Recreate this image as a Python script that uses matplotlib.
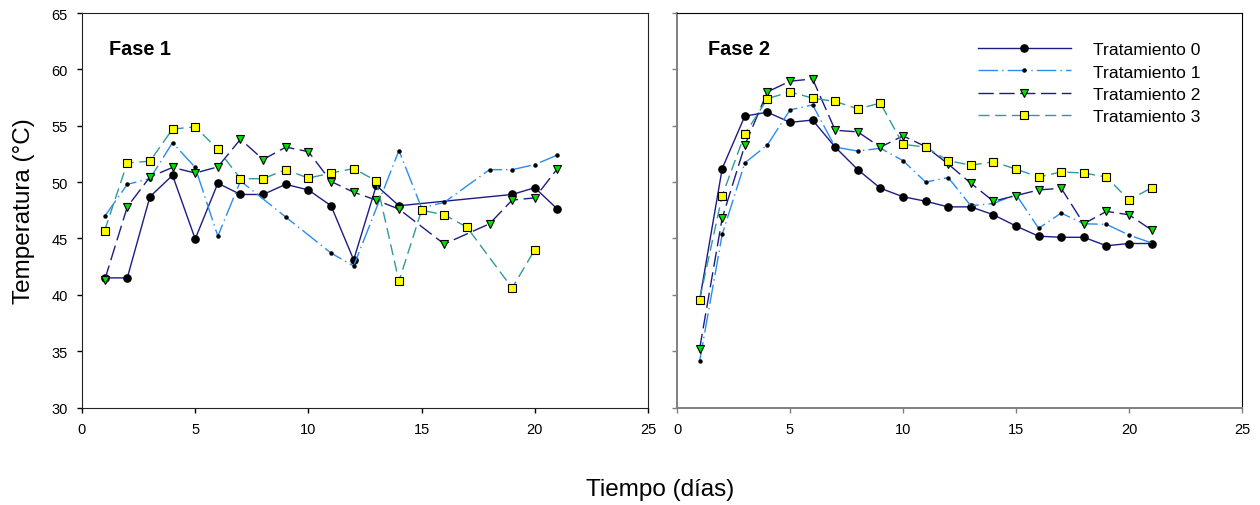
import numpy as np
import matplotlib
matplotlib.use('Agg')
import matplotlib.pyplot as plt

plt.rcParams['font.family'] = ['Liberation Sans', 'DejaVu Sans']

nan = np.nan
dias = np.arange(1, 22)

# Fase 1
f1_t0 = [41.5, 41.5, 48.7, 50.6, 44.95, 49.9, 48.9, 48.9, 49.8, 49.3, 47.9, 43.1, 49.7, 47.9,
         nan, nan, nan, nan, 48.9, 49.5, 47.6]
f1_t1 = [46.95, 49.8, 50.3, 53.5, 51.3, 45.2, 50.1, nan, 46.9, nan, 43.7, 42.55, nan, 52.8,
         47.7, 48.2, nan, 51.1, 51.1, 51.55, 52.4]
f1_t2 = [41.3, 47.8, 50.45, 51.3, 50.8, 51.35, 53.8, 52.0, 53.1, 52.7, 50.05, 49.1, 48.4, 47.6,
         nan, 44.5, nan, 46.3, 48.4, 48.6, 51.2]
f1_t3 = [45.7, 51.7, 51.85, 54.7, 54.9, 52.9, 50.3, 50.3, 51.1, 50.35, 50.8, 51.2, 50.1, 41.2,
         47.5, 47.1, 46.0, nan, 40.6, 44.0, nan]

# Fase 2
f2_t0 = [39.5, 51.2, 55.85, 56.2, 55.3, 55.5, 53.1, 51.1, 49.45, 48.7, 48.3, 47.8, 47.8, 47.1,
         46.1, 45.2, 45.1, 45.1, 44.35, 44.55, 44.55]
f2_t1 = [34.1, 45.35, 51.7, 53.3, 56.4, 56.85, 53.1, 52.75, 53.0, 51.9, 50.0, 50.4, 47.9, 48.1,
         48.9, 45.9, 47.25, 46.3, 46.25, 45.3, 44.6]
f2_t2 = [35.2, 46.8, 53.25, 58.0, 58.95, 59.15, 54.6, 54.45, 53.1, 54.1, 53.15, 51.6, 49.9, 48.3,
         48.8, 49.3, 49.45, 46.3, 47.4, 47.1, 45.75]
f2_t3 = [39.57, 48.8, 54.25, 57.4, 58.0, 57.45, 57.15, 56.5, 57.0, 53.35, 53.1, 51.9, 51.5, 51.8,
         51.15, 50.45, 50.9, 50.8, 50.45, 48.4, 49.5]

labels = ['Tratamiento 0', 'Tratamiento 1', 'Tratamiento 2', 'Tratamiento 3']

navy = '#1c1c86'
estilos = [
    dict(color=navy, ls='-', marker='o', ms=5.2, mfc='black', mec='black'),
    dict(color='#2a8cf0', ls=(0, (14, 3, 1, 3)), marker='o', ms=2.2, mfc='black', mec='black'),
    dict(color=navy, ls=(0, (11, 4)), marker='v', ms=6.3, mfc='#00dd00', mec='black', mew=0.8),
    dict(color='#2f9a9a', ls=(0, (8, 4)), marker='s', ms=6.0, mfc='#ffff00', mec='black', mew=0.8),
]

fig = plt.figure(figsize=(12.6, 5.06), dpi=100)
bot = (506 - 408.5) / 506
hgt = (408.5 - 14) / 506
ax1 = fig.add_axes([82 / 1260, bot, (648 - 82) / 1260, hgt])
ax2 = fig.add_axes([677 / 1260, bot, (1242 - 677) / 1260, hgt])


def dibujar(ax, series):
    for vals, st, lab in zip(series, estilos, labels):
        y = np.array(vals, dtype=float)
        m = ~np.isnan(y)
        ax.plot(dias[m], y[m], lw=1.0, label=lab, **st)
    ax.set_xlim(0, 25)
    ax.set_ylim(30, 65)
    ax.set_xticks(np.arange(0, 26, 5))
    ax.set_yticks(np.arange(30, 66, 5))
    ax.tick_params(direction='out', length=3.6, labelsize=10.5, width=1)
    ax.tick_params(axis='x', pad=7)
    ax.tick_params(axis='y', pad=6.5)


dibujar(ax1, [f1_t0, f1_t1, f1_t2, f1_t3])
dibujar(ax2, [f2_t0, f2_t1, f2_t2, f2_t3])
ax2.set_yticklabels([])

for sp in ax1.spines.values():
    sp.set_color('#222222')
for s in ['left', 'bottom']:
    ax2.spines[s].set_color('#808080')
    ax2.spines[s].set_linewidth(1.4)
ax2.tick_params(color='#808080')

fase_y = (408.5 - 55) / 394.5
ax1.text(27 / 566, fase_y, 'Fase 1', transform=ax1.transAxes, fontsize=14.3,
         fontweight='bold', va='baseline')
ax2.text(31 / 565, fase_y, 'Fase 2', transform=ax2.transAxes, fontsize=14.3,
         fontweight='bold', va='baseline')

ax2.legend(loc='upper left', bbox_to_anchor=(0.52, 0.944), frameon=False, fontsize=12.6,
           handlelength=5.3, handletextpad=1.3, labelspacing=0.4, borderaxespad=0)

fig.text(24 / 1260, 1 - 211 / 506, 'Temperatura (°C)', rotation=90, ha='center', va='center',
         fontsize=17.5)
fig.text(660 / 1260, 1 - 490 / 506, 'Tiempo (días)', ha='center', va='center', fontsize=17.5)

fig.savefig('out.png', dpi=100)
